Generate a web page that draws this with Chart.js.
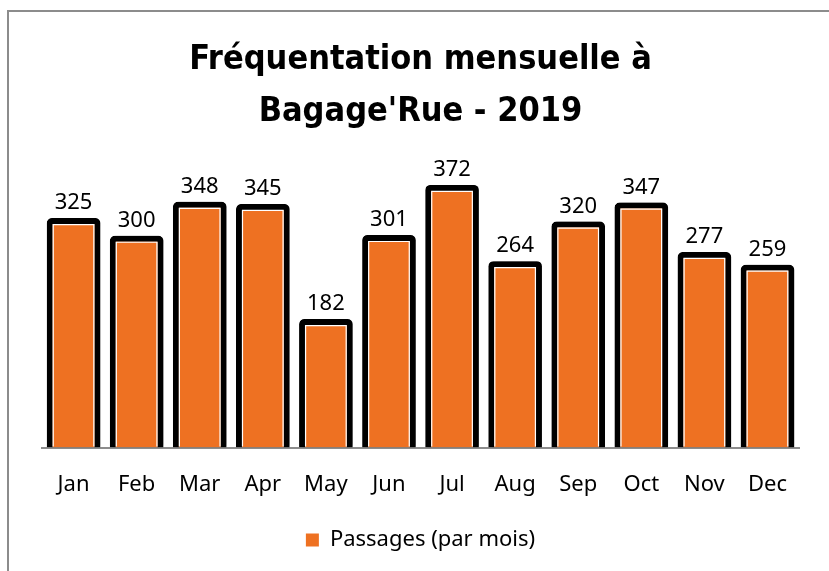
<!DOCTYPE html>
<html>
<head>
<meta charset="utf-8">
<script src="https://cdn.jsdelivr.net/npm/chart.js@4/dist/chart.umd.min.js"></script>
<style>
  html, body { margin: 0; padding: 0; background: #fff; }
  #frame { position: absolute; left: 7px; top: 10px; width: 822px; height: 561px;
           border-left: 2px solid #8c8c8c; border-top: 2px solid #8c8c8c; box-sizing: border-box; }
  #wrap { position: absolute; left: 0; top: 0; width: 829px; height: 571px; }
</style>
</head>
<body>
<div id="frame"></div>
<div id="wrap"><canvas id="myChart" width="829" height="571"></canvas></div>
<script>
// data
var months = ["Jan", "Feb", "Mar", "Apr", "May", "Jun", "Jul", "Aug", "Sep", "Oct", "Nov", "Dec"];
var passages = [325, 300, 348, 345, 182, 301, 372, 264, 320, 347, 277, 259];
var seriesName = "Passages (par mois)";
var titleLines = ["Fréquentation mensuelle à", "Bagage'Rue - 2019"];

var orange = "#ee7122";
var textFont = "'Noto Sans', 'Open Sans', sans-serif";

// white inner line + value on top of each bar
var barDecor = {
  id: 'barDecor',
  beforeDatasetsDraw(chart) {
    var ctx = chart.ctx;
    ctx.save();
    ctx.shadowColor = "rgba(0,0,0,0.6)";
    ctx.shadowBlur = 4;
    ctx.shadowOffsetX = 3;
    ctx.shadowOffsetY = 0;
  },
  afterDatasetsDraw(chart) {
    var ctx = chart.ctx;
    ctx.restore();
    var meta = chart.getDatasetMeta(0);
    ctx.save();
    meta.data.forEach(function (bar, i) {
      var left = bar.x - bar.width / 2;
      var w = bar.width;
      // inner white line
      ctx.strokeStyle = "#ffffff";
      ctx.lineWidth = 1.2;
      ctx.beginPath();
      ctx.moveTo(left + 6.5, bar.base - 1);
      ctx.lineTo(left + 6.5, bar.y + 6.5);
      ctx.lineTo(left + w - 6.5, bar.y + 6.5);
      ctx.lineTo(left + w - 6.5, bar.base - 1);
      ctx.stroke();
      // value label
      ctx.fillStyle = "#000";
      ctx.font = "22px " + textFont;
      ctx.textAlign = "center";
      ctx.textBaseline = "bottom";
      ctx.fillText(passages[i], bar.x, bar.y - 4);
    });
    ctx.restore();
  }
};

new Chart("myChart", {
  type: "bar",
  data: {
    labels: months,
    datasets: [{
      label: seriesName,
      data: passages,
      backgroundColor: orange,
      borderColor: "#000",
      borderWidth: 6,
      borderRadius: { topLeft: 5, topRight: 5, bottomLeft: 0, bottomRight: 0 },
      borderSkipped: "start",
      barPercentage: 0.85,
      categoryPercentage: 1.0
    }]
  },
  options: {
    responsive: false,
    animation: false,
    devicePixelRatio: 1,
    layout: { padding: { left: 42, right: 30, top: 20, bottom: 10 } },
    plugins: {
      title: {
        display: true,
        text: titleLines,
        color: "#000",
        font: { family: "'DejaVu Sans Condensed', sans-serif", size: 34, weight: "bold", lineHeight: 1.53 },
        padding: { top: 14, bottom: 20 }
      },
      legend: {
        position: "bottom",
        labels: {
          color: "#000",
          boxWidth: 13,
          boxHeight: 13,
          padding: 7,
          font: { family: textFont, size: 22 },
          generateLabels: function (chart) {
            return [{ text: seriesName, fillStyle: orange, strokeStyle: orange, lineWidth: 0, datasetIndex: 0 }];
          }
        }
      },
      tooltip: { enabled: false }
    },
    scales: {
      x: {
        grid: { display: false, drawTicks: false },
        border: { display: true, color: "#8c8c8c", width: 2 },
        ticks: { color: "#000", padding: 24, font: { family: textFont, size: 22 } }
      },
      y: {
        display: false,
        min: 0,
        max: 410
      }
    }
  },
  plugins: [barDecor]
});
</script>
</body>
</html>
